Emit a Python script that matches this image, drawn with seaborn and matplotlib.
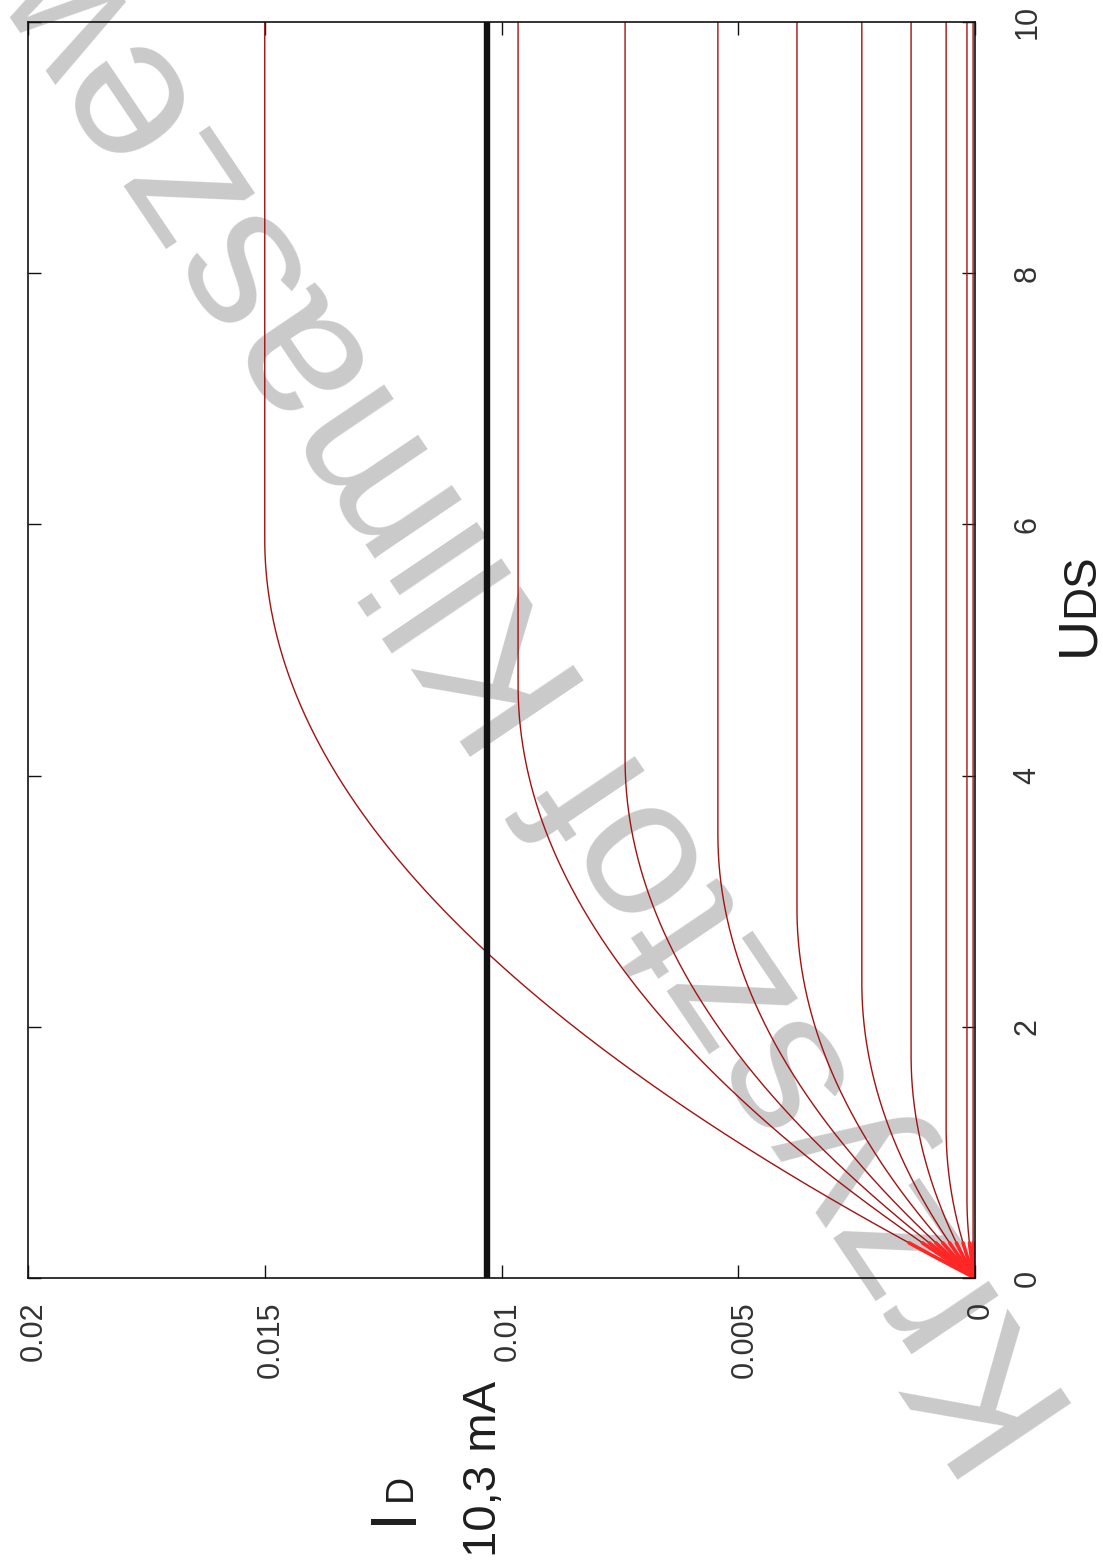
import numpy as np
import pandas as pd
import matplotlib
matplotlib.use("Agg")
import matplotlib.pyplot as plt
import matplotlib.transforms as mtransforms
import seaborn as sns

# Output characteristics of the transistor: saturation current of each curve [A]
id_sat = [0.0150, 0.00965, 0.00739, 0.00543, 0.00376, 0.00239, 0.00135, 0.00061, 0.00017, 0.00004]
# drain-source voltage at which each curve saturates [V]
u_sat = [5.88, 4.72, 4.13, 3.53, 2.94, 2.35, 1.77, 1.19, 0.63, 0.30]

# operating current marked on the chart
id_marker = 0.0103
marker_label = "10,3 mA"

id_ticks = [0, 0.005, 0.01, 0.015, 0.02]
id_tick_labels = ["0", "0.005", "0.01", "0.015", "0.02"]
uds_ticks = [0, 2, 4, 6, 8, 10]
uds_tick_labels = ["0", "2", "4", "6", "8", "10"]

watermark = "Krzysztof Klimaszewski"

sns.set_style("white")
plt.rcParams["font.family"] = ["Liberation Sans", "DejaVu Sans"]

W, H = 1103, 1560
fig = plt.figure(figsize=(W / 100, H / 100), dpi=100)
fig.patch.set_facecolor("white")


def fx(px):
    return px / W


def fy(py):
    return 1 - py / H


ax = fig.add_axes([fx(28), fy(1278), fx(975) - fx(28), fy(22) - fy(1278)])

# triode region is a parabola ending at the saturation point, flat afterwards
u = np.linspace(0, 10, 2001)
rows = []
for k, (isat, us) in enumerate(zip(id_sat, u_sat)):
    i = np.where(u < us, isat * (1 - (1 - u / us) ** 2), isat)
    rows.append(pd.DataFrame({"UDS": u, "ID": i, "curve": k}))
curves = pd.concat(rows, ignore_index=True)

# the chart is laid out turned on its side: current runs horizontally (reversed), voltage vertically
sns.lineplot(data=curves, x="ID", y="UDS", hue="curve", palette=["#a01212"] * len(id_sat),
             estimator=None, sort=False, legend=False, linewidth=1.0, ax=ax, zorder=2)
near_origin = curves[curves["UDS"] <= 0.28]
sns.lineplot(data=near_origin, x="ID", y="UDS", hue="curve", palette=["#ff2626"] * len(id_sat),
             estimator=None, sort=False, legend=False, linewidth=2.6, ax=ax, zorder=2.1)

ax.axvline(id_marker, color="#111111", linewidth=4.6, zorder=3)

ax.set_xlim(0.02, 0)
ax.set_ylim(0, 10)
ax.set_xticks(id_ticks)
ax.set_xticklabels(id_tick_labels, rotation=90)
ax.set_yticks(uds_ticks)
ax.set_yticklabels(uds_tick_labels, rotation=90, va="center")
ax.set_xlabel("")
ax.set_ylabel("")

ax.tick_params(axis="both", direction="in", length=9.5, width=1.0, color="#111111",
               top=True, bottom=True, left=True, right=True, labelsize=22,
               labelcolor="#333333")
ax.tick_params(axis="x", pad=17)
ax.tick_params(axis="y", labelleft=False, labelright=True, pad=27)
shift = mtransforms.ScaledTranslation(6 / 100, 0, fig.dpi_scale_trans)
for lab in ax.get_xticklabels():
    lab.set_transform(lab.get_transform() + shift)

for s in ax.spines.values():
    s.set_color("#111111")
    s.set_linewidth(1.2)
    s.set_visible(True)

# grey watermark running diagonally across the sheet
ax.text(fx(1081), fy(1415), watermark, transform=fig.transFigure, rotation=124,
        rotation_mode="anchor", ha="left", va="baseline", fontsize=143,
        color="#cacaca", zorder=0.5, clip_on=False)

# axis titles, turned with the chart
tkw = dict(rotation=90, rotation_mode="anchor", ha="left", va="baseline", color="#1e1e1e")
fig.text(fx(1093), fy(656), "U", fontsize=40, **tkw)
fig.text(fx(1093), fy(617), "DS", fontsize=33, **tkw)
fig.text(fx(411), fy(1524), "I", fontsize=47, **tkw)
fig.text(fx(411), fy(1501), "D", fontsize=27, **tkw)
fig.text(fx(496), fy(1557), marker_label, fontsize=34, **tkw)

fig.savefig("out.png", dpi=100, facecolor="white")
